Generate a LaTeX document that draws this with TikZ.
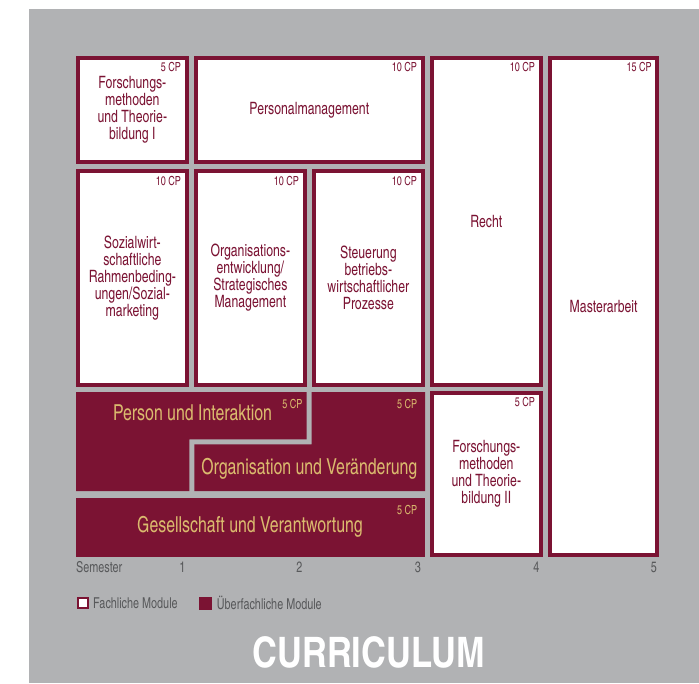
\documentclass[tikz,border=0pt]{standalone}
\usepackage{fontspec}
\setmainfont{texgyreheroscn}[Extension=.otf,UprightFont=*-regular,BoldFont=*-bold,FakeStretch=0.88]
\newfontfamily\titelschrift{texgyreheroscn}[Extension=.otf,UprightFont=*-bold]
\usetikzlibrary{calc}
\usetikzlibrary{positioning}
\definecolor{weinrot}{RGB}{123,19,51}
\definecolor{gold}{RGB}{218,186,110}
\definecolor{hellgrau}{RGB}{177,178,180}
\definecolor{textgrau}{RGB}{88,89,91}
\begin{document}
\begin{tikzpicture}[x=1pt,y=-1pt,
    modul/.style={draw=weinrot,line width=4pt,fill=white,text=weinrot,align=center,inner sep=0pt,
        font=\fontsize{17}{17}\selectfont},
    cp/.style={text=weinrot,inner sep=0pt,anchor=north east,font=\fontsize{12.5}{13}\selectfont},
    ueber/.style={text=gold,inner sep=0pt,font=\fontsize{22}{24}\selectfont},
    ueberCp/.style={text=gold,inner sep=0pt,anchor=north east,font=\fontsize{12.5}{13}\selectfont},
    grautext/.style={text=textgrau,inner sep=0pt,font=\fontsize{15}{16}\selectfont}]
                \useasboundingbox (0,0) rectangle (699,683);
                \fill[hellgrau] (29,9) rectangle (699,683);
                \node[modul,minimum width=108.7,minimum height=104] (fmEins) at (132.35,110)
                    {Forschungs-\\methoden\\und Theorie-\\bildung I};
                \node[modul,minimum width=226.7,minimum height=104] (personal) at (309.35,110)
                    {Personalmanagement};
                \node[modul,minimum width=108.7,minimum height=213.4] (sozial) at (132.35,278)
                    {Sozialwirt-\\schaftliche\\Rahmenbeding-\\ungen/Sozial-\\marketing};
                \node[modul,minimum width=108.7,minimum height=213.4] (orga) at (250.35,278)
                    {Organisations-\\entwicklung/\\Strategisches\\Management};
                \node[modul,minimum width=108.7,minimum height=213.4] (steuerung) at (368.35,278)
                    {Steuerung\\betriebs-\\wirtschaftlicher\\Prozesse};
                \node[modul,minimum width=108.7,minimum height=326.7] (recht) at (486.35,221.35)
                    {Recht};
                \node[modul,minimum width=108.7,minimum height=161.8] (fmZwei) at (486.35,473.6)
                    {Forschungs-\\methoden\\und Theorie-\\bildung II};
                \node[modul,minimum width=107.3,minimum height=496.5] (master) at (603.65,306.25)
                    {Masterarbeit};
                \foreach \m/\c in {fmEins/5,personal/10,sozial/10,orga/10,steuerung/10,recht/10,fmZwei/5,master/15}
                    \node[cp] (cp\m) at ($(\m.north east)+(-7.5,6.5)$) {\c~CP};
                % ueberfachliche Module
                \fill[weinrot] (76,392) -- (306.7,392) -- (306.7,439.3) -- (189.3,439.3)
                    -- (189.3,491) -- (76,491) -- cycle;
                \fill[weinrot] (311.7,392) -- (425,392) -- (425,491) -- (194.3,491)
                    -- (194.3,444.3) -- (311.7,444.3) -- cycle;
                \fill[weinrot] (76,498) rectangle (425,557.3);
                \node[ueber] (person) at (192.5,413) {Person und Interaktion};
                \node[ueber] (orgaVer) at (309.3,469) {Organisation und Veränderung};
                \node[ueber] (gesell) at (250,526.5) {Gesellschaft und Verantwortung};
                \node[ueberCp] (cpPerson) at (302.7,399.5) {5~CP};
                \node[ueberCp] (cpOrgaVer) at (417.3,399.5) {5~CP};
                \node[ueberCp] (cpGesell) at (417.3,505.5) {5~CP};
                % Semester
                \node[grautext,anchor=west] (semester) at (76,567) {Semester};
                \foreach \s/\x in {1/185.5,2/302.5,3/421,4/539.5,5/657}
                    \node[grautext,anchor=east] (sem\s) at (\x,567) {\s};
                % Legende
                \node[draw=weinrot,line width=2pt,fill=white,minimum size=10,inner sep=0pt] (legFach) at (82.7,603) {};
                \node[grautext,right=4.3pt of legFach] (legFachText) {Fachliche Module};
                \node[fill=weinrot,minimum size=13,inner sep=0pt] (legUeber) at (205.4,603.3) {};
                \node[grautext,right=4.6pt of legUeber] (legUeberText) {Überfachliche Module};
                \node[text=white,inner sep=0pt,font=\fontsize{42}{46}\titelschrift] (titel) at (369,652) {CURRICULUM};
\end{tikzpicture}
\end{document}
